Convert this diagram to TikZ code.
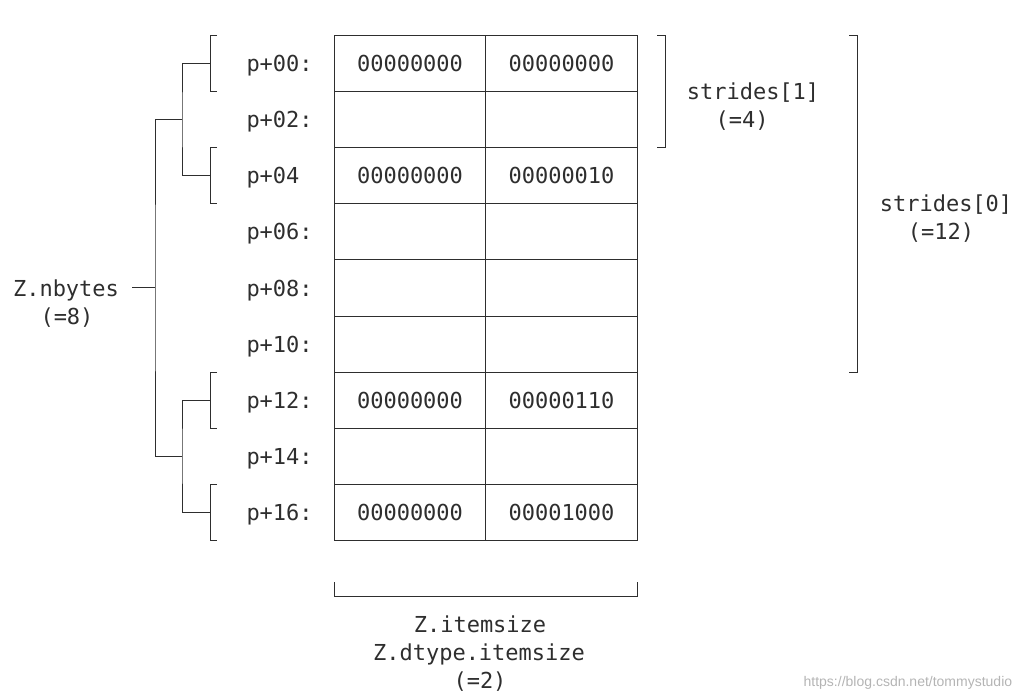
\documentclass[tikz,border=0pt]{standalone}
\usepackage{fontspec}
\setmonofont{DejaVu Sans Mono}
\setsansfont{Liberation Sans}
\usepackage{xcolor}
\usetikzlibrary{positioning}
\definecolor{inkgray}{HTML}{2E2E2E}
\definecolor{markgray}{HTML}{B4B4B4}

\begin{document}
\begin{tikzpicture}[x=1pt,y=-1pt,inkgray,line width=1pt]
  \tikzstyle{mono}=[font=\ttfamily\fontsize{22}{26}\selectfont,inner sep=0pt,text height=16pt,text depth=0pt]
  \tikzstyle{cellbox}=[mono,draw,minimum width=151.5pt,minimum height=56pt,outer sep=0pt]
  \tikzstyle{addr}=[mono,anchor=west]
  \useasboundingbox (0,0) rectangle (1024,700);
  % memory rows
  \foreach \i/\adr/\lob/\hib in {0/p+00:/00000000/00000000, 1/p+02:/{}/{}, 2/p+04/00000000/00000010,
      3/p+06:/{}/{}, 4/p+08:/{}/{}, 5/p+10:/{}/{}, 6/p+12:/00000000/00000110, 7/p+14:/{}/{},
      8/p+16:/00000000/00001000} {
    \node[cellbox] (lo\i) at (410,64+56*\i) {\lob};
    \node[cellbox,right=0pt of lo\i] (hi\i) {\hib};
    \node[addr] (adr\i) at (246,64+56*\i) {\adr};
  }
  % brackets of the items
  \foreach \i in {0,2,6,8} {
    \draw (217,36+56*\i) -- (210,36+56*\i) -- (210,92+56*\i) -- (217,92+56*\i);
    \coordinate (br\i) at (210,64+56*\i);
  }
  \coordinate (fork02) at (182,120);
  \coordinate (fork68) at (182,456);
  \coordinate (root) at (155,288);
  \draw (br0) -| (fork02) |- (br2);
  \draw (br6) -| (fork68) |- (br8);
  \draw (fork02) -| (root) |- (fork68);
  \node[mono] (nbytes) at (66,288) {Z.nbytes};
  \node[mono] (nbytesval) at (67,316) {(=8)};
  \draw[shorten <=13pt] (nbytes) -- (root);
  % strides
  \draw (657,36) -- (665,36) -- (665,148) -- (657,148);
  \node[mono] (stride1) at (753,92) {strides[1]};
  \node[mono] (stride1val) at (742,120) {(=4)};
  \draw (849,36) -- (857,36) -- (857,372) -- (849,372);
  \node[mono] (stride0) at (946,204) {strides[0]};
  \node[mono] (stride0val) at (941,232) {(=12)};
  % itemsize
  \draw (334,582) -- (334,596) -- (637,596) -- (637,582);
  \node[mono] (itemsize) at (480,624) {Z.itemsize};
  \node[mono] (dtypesize) at (479,652) {Z.dtype.itemsize};
  \node[mono] (itemsizeval) at (480,680) {(=2)};
  \node[font=\sffamily\fontsize{14}{16}\selectfont,text=markgray,anchor=east] (mark) at (1016,683) {https://blog.csdn.net/tommystudio};
\end{tikzpicture}
\end{document}
